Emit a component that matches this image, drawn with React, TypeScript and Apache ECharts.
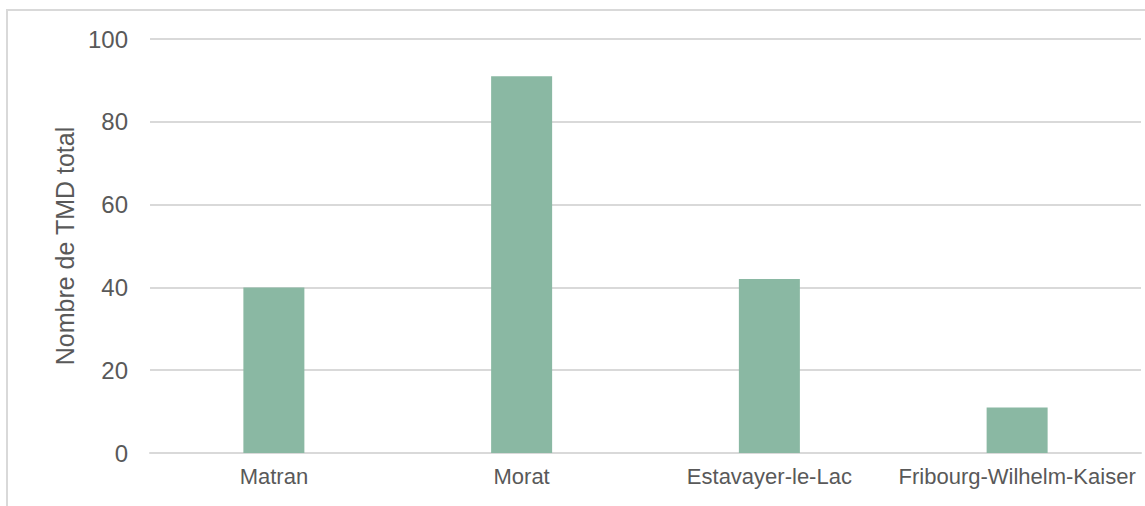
import React, { useEffect, useRef } from "react";
import * as echarts from "echarts";

const categories = ["Matran", "Morat", "Estavayer-le-Lac", "Fribourg-Wilhelm-Kaiser"];
const values = [40, 91, 42, 11];
const yMin = 0;
const yMax = 100;
const yInterval = 20;
const yAxisName = "Nombre de TMD total";

export default function App() {
  const ref = useRef<HTMLDivElement>(null);
  useEffect(() => {
    if (!ref.current) return;
    const chart = echarts.init(ref.current, null, { renderer: "svg" });
    chart.setOption({
      animation: false,
      backgroundColor: "#ffffff",
      textStyle: { fontFamily: "Liberation Sans, Arial, sans-serif" },
      graphic: [
        {
          type: "rect",
          shape: { x: 7, y: 10, width: 1300, height: 700 },
          style: { fill: "none", stroke: "#d9d9d9", lineWidth: 2 },
          silent: true,
          z: -1,
        },
      ],
      grid: { left: 150, right: 4, top: 39, bottom: 53 },
      xAxis: {
        type: "category",
        data: categories,
        axisLine: { show: true, lineStyle: { color: "#d9d9d9", width: 2 } },
        axisTick: { show: false },
        axisLabel: {
          color: "#595959",
          fontSize: 22,
          margin: 12,
          interval: 0,
          fontFamily: "Liberation Sans, Arial, sans-serif",
        },
      },
      yAxis: {
        type: "value",
        min: yMin,
        max: yMax,
        interval: yInterval,
        name: yAxisName,
        nameLocation: "middle",
        nameRotate: 90,
        nameGap: 72,
        nameTextStyle: {
          color: "#595959",
          fontSize: 25,
          fontFamily: "Liberation Sans, Arial, sans-serif",
        },
        axisLine: { show: false },
        axisTick: { show: false },
        splitLine: { show: true, lineStyle: { color: "#d9d9d9", width: 2 } },
        axisLabel: {
          color: "#595959",
          fontSize: 24,
          margin: 22,
          fontFamily: "Liberation Sans, Arial, sans-serif",
        },
      },
      series: [
        {
          type: "bar",
          data: values,
          barWidth: 61,
          itemStyle: { color: "#8ab8a3" },
        },
      ],
    });
    return () => chart.dispose();
  }, []);
  return (
    <div
      ref={ref}
      style={{ position: "absolute", left: 0, top: 0, width: 1145, height: 506 }}
    />
  );
}
